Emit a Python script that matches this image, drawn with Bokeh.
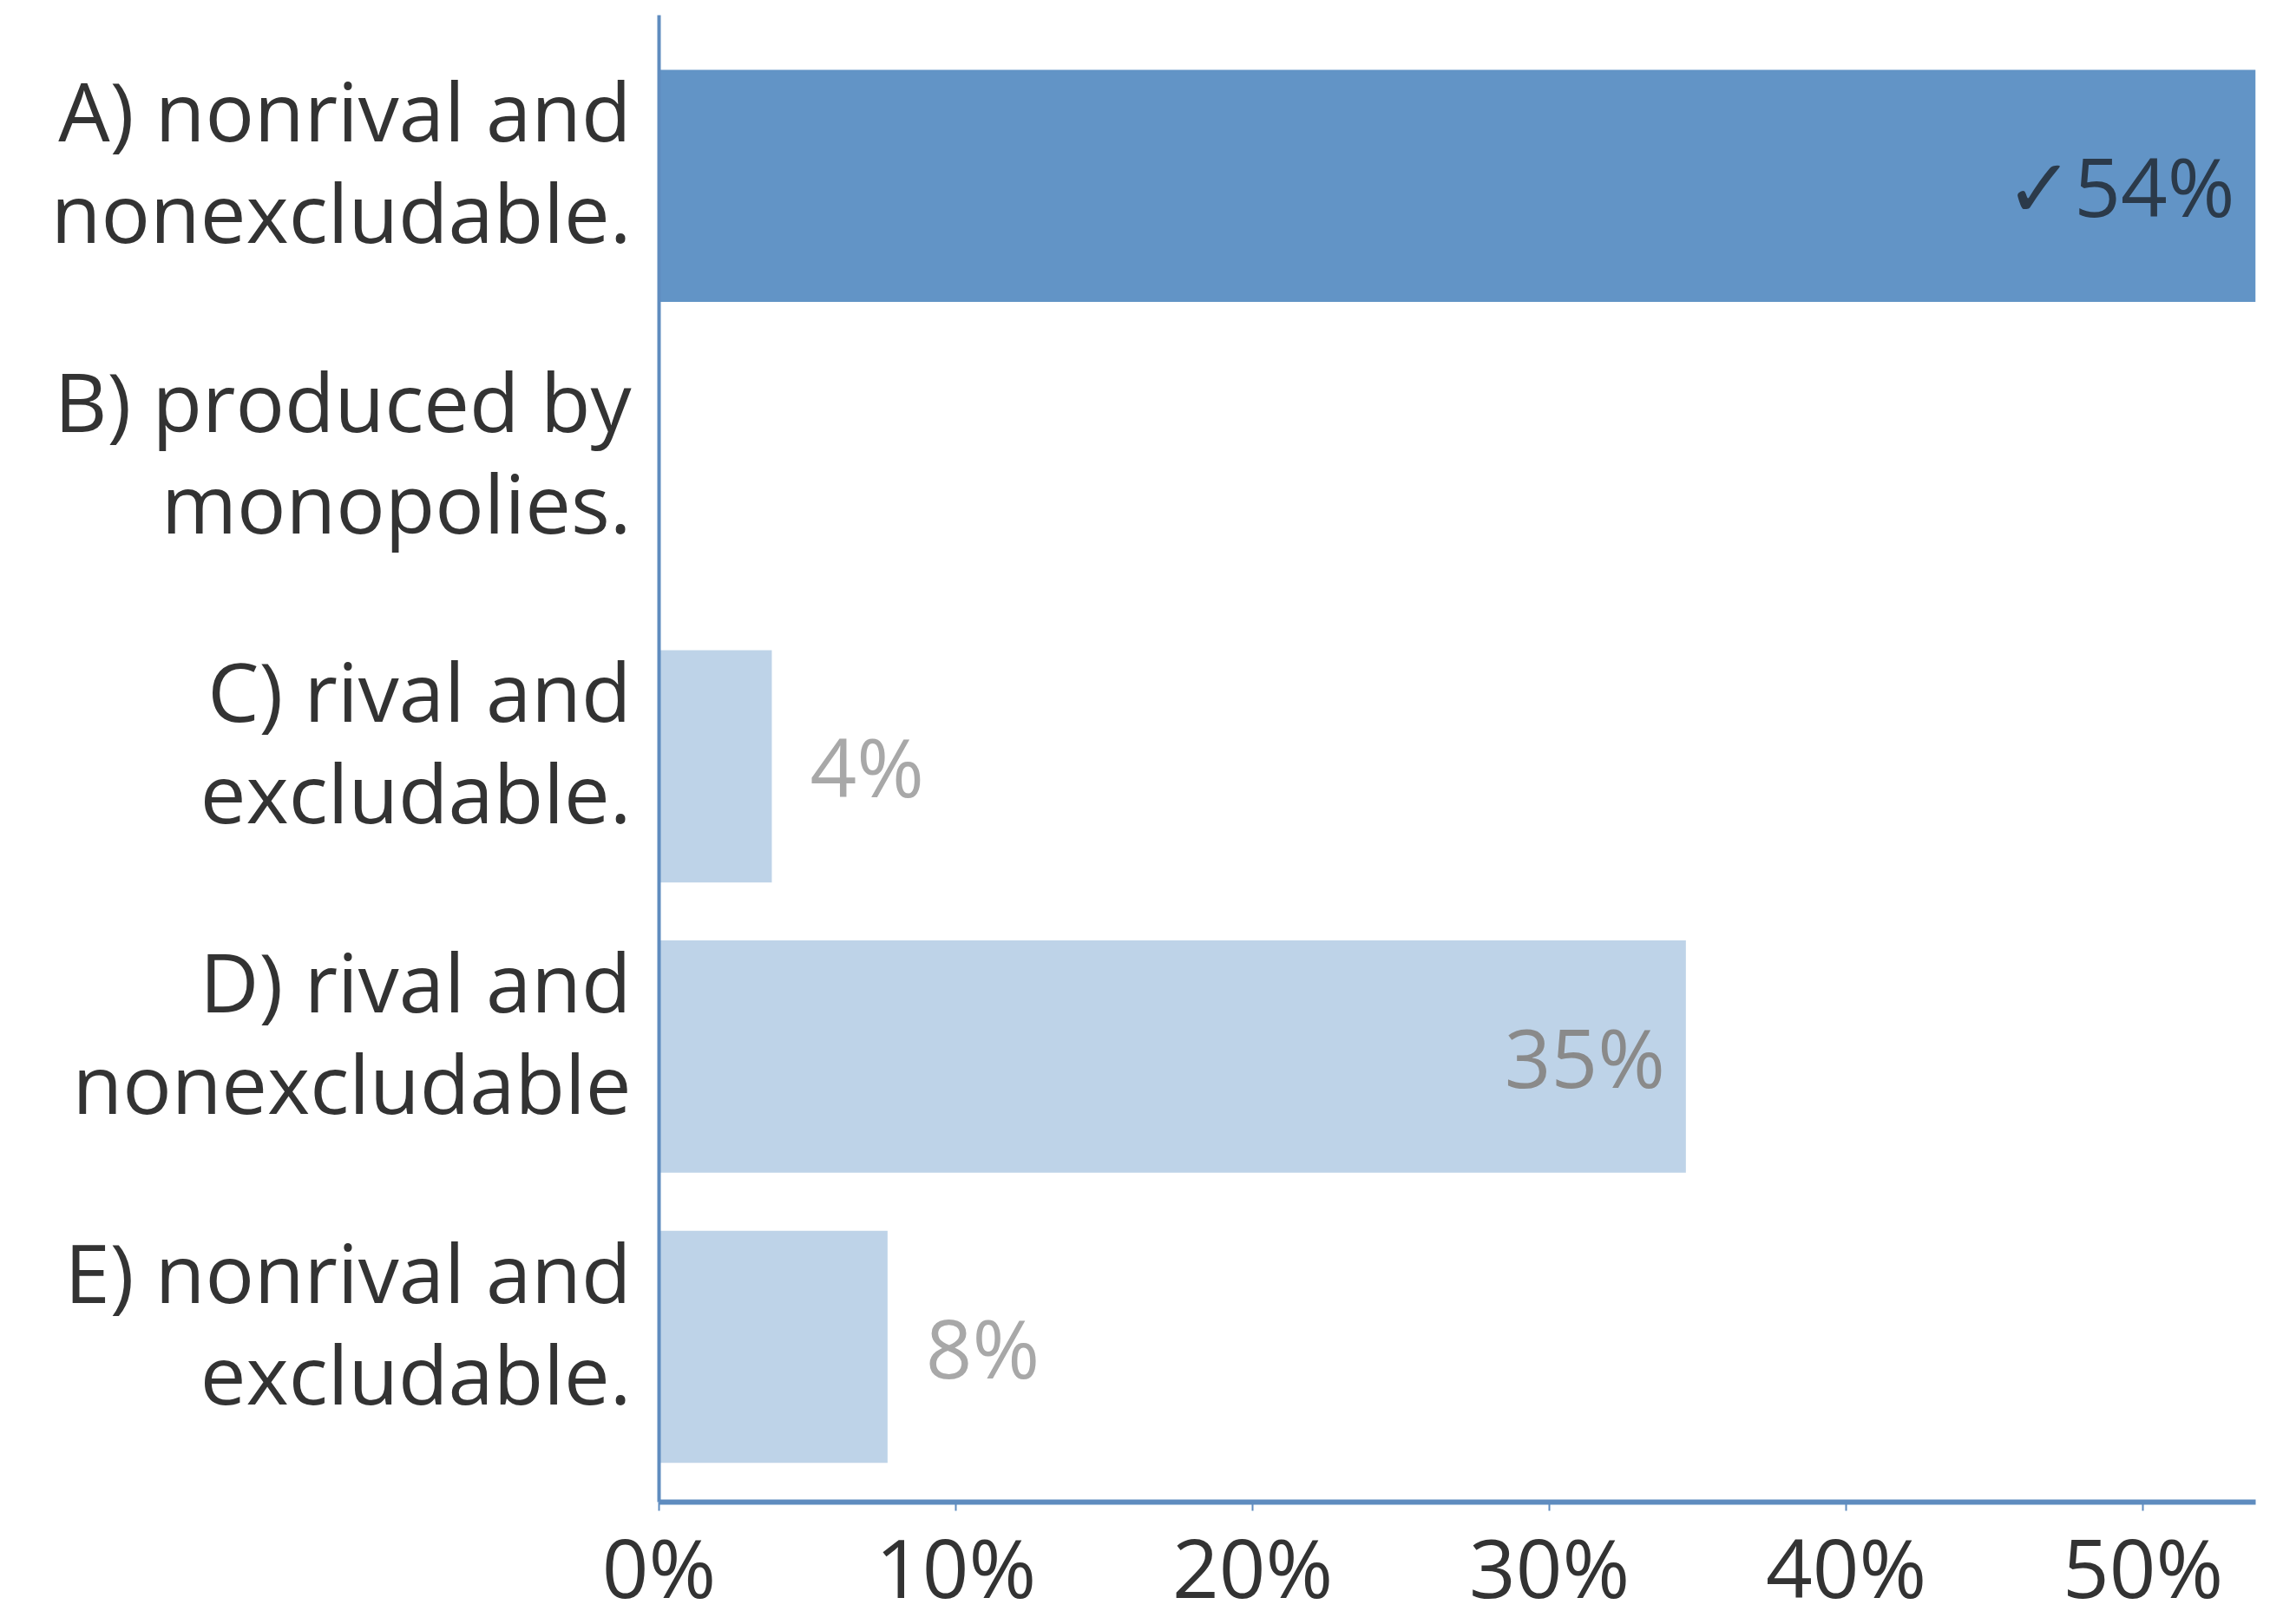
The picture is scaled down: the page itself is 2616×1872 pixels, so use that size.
from bokeh.plotting import figure
from bokeh.models import Range1d, FixedTicker, ColumnDataSource, CustomJSTickFormatter
from bokeh.core.properties import value
from bokeh.embed import file_html
from bokeh.resources import INLINE

# ---- data ----
categories = ["A) nonrival and\nnonexcludable.",
              "B) produced by\nmonopolies.",
              "C) rival and\nexcludable.",
              "D) rival and\nnonexcludable",
              "E) nonrival and\nexcludable."]
percent = [53.8, 0.0, 3.8, 34.6, 7.7]
correct = [True, False, False, False, False]
x_ticks = [0, 10, 20, 30, 40, 50]

FONT = "Open Sans"
n = len(categories)
ypos = [n - 1 - i for i in range(n)]
LABEL_SHIFT = 0.085  # category labels sit slightly above bar centres

bar_colors = ["#6294c6" if c else "#bed3e8" for c in correct]

labels, lx_off, lalign, lcolor = [], [], [], []
for v, c in zip(percent, correct):
    if v <= 0:
        labels.append(""); lx_off.append(0); lalign.append("left"); lcolor.append("#a6a6a6")
        continue
    txt = f"{round(v)}%"
    if c:
        txt = "\u2713" + txt
    labels.append(txt)
    if v > 20:
        lx_off.append(-24); lalign.append("right")
        lcolor.append("#2b3a4a" if c else "#8a8a8a")
    else:
        lx_off.append(44); lalign.append("left"); lcolor.append("#a8a8a8")

src = ColumnDataSource(dict(y=ypos, right=percent, color=bar_colors,
                            label=labels, xoff=lx_off, align=lalign, lcolor=lcolor))

p = figure(width=2616, height=1872, output_backend="svg", toolbar_location=None,
           x_range=Range1d(0, max(percent)), y_range=Range1d(-0.535, n - 1 + 0.588),
           min_border_left=759, min_border_right=17, min_border_top=17, min_border_bottom=121)
p.outline_line_color = None
p.xgrid.visible = False
p.ygrid.visible = False
p.background_fill_color = "white"

p.hbar(y="y", left=0, right="right", height=0.8, fill_color="color", line_color=None, source=src)
p.text(x="right", y="y", text="label", x_offset="xoff", text_align="align",
       text_baseline="middle", text_color="lcolor", text_font=value(FONT),
       text_font_size="94px", source=src)

# x axis
xa = p.xaxis[0]
xa.ticker = FixedTicker(ticks=x_ticks)
xa.formatter = CustomJSTickFormatter(code="return tick + '%';")
xa.axis_line_color = "#5f8cbf"
xa.axis_line_width = 6
xa.major_tick_line_color = "#5f8cbf"
xa.major_tick_line_width = 2
xa.major_tick_out = 10
xa.major_tick_in = 0
xa.minor_tick_line_color = None
xa.major_label_text_font = FONT
xa.major_label_text_font_size = "94px"
xa.major_label_text_color = "#333333"
xa.major_label_standoff = 0

# y axis
ytick = sorted(y + LABEL_SHIFT for y in ypos)
ylab = [categories[n - 1 - round(t - LABEL_SHIFT)] for t in ytick]
ya = p.yaxis[0]
ya.ticker = FixedTicker(ticks=ytick)
ya.formatter = CustomJSTickFormatter(args=dict(labels=ylab), code="return labels[index];")
ya.axis_line_color = "#5f8cbf"
ya.axis_line_width = 4
ya.major_tick_line_color = None
ya.minor_tick_line_color = None
ya.major_label_text_font = FONT
ya.major_label_text_font_size = "94px"
ya.major_label_text_color = "#333333"
ya.major_label_text_align = "right"
ya.major_label_text_line_height = 0.915
ya.major_label_standoff = 26

open("out.html", "w").write(file_html(p, INLINE))
